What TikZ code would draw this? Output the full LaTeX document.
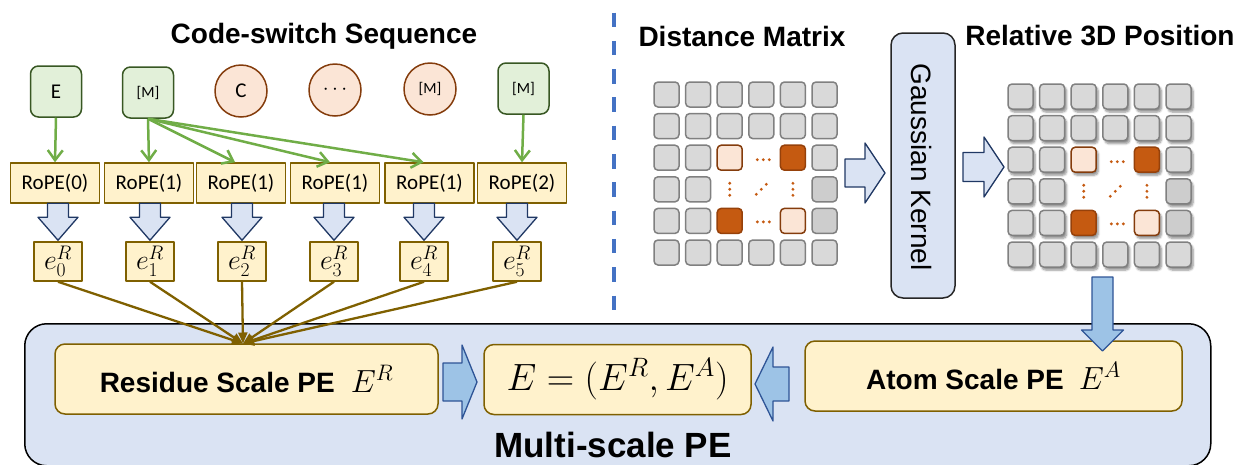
\RequirePackage{fix-cm}
\documentclass[tikz,border=0pt]{standalone}
\usepackage{fontspec}
\setmainfont{Liberation Sans}
\newfontfamily\calib{Carlito}
\usepackage{graphicx}
\usetikzlibrary{arrows.meta,calc,shadows,shadows.blur}

\definecolor{gfill}{RGB}{226,240,217}
\definecolor{gline}{RGB}{56,87,35}
\definecolor{ofill}{RGB}{251,229,214}
\definecolor{oline}{RGB}{132,60,12}
\definecolor{ydark}{RGB}{127,96,0}
\definecolor{yfill}{RGB}{255,242,204}
\definecolor{bfill}{RGB}{218,227,243}
\definecolor{navy}{RGB}{32,56,100}
\definecolor{mblue}{RGB}{157,195,230}
\definecolor{mline}{RGB}{46,84,150}
\definecolor{garrow}{RGB}{112,173,71}
\definecolor{dashblue}{RGB}{68,114,196}
\definecolor{cellfill}{RGB}{217,217,217}
\definecolor{cellline}{RGB}{128,128,128}
\definecolor{cellfilld}{RGB}{205,205,205}
\definecolor{rust}{RGB}{197,90,17}
\definecolor{rustd}{RGB}{150,65,10}

% block arrow: style, origin (tail centre), rotation, length, shaft half width, head half width, head length
\newcommand\blockarrow[7]{%
  \begin{scope}[shift={#2},rotate=#3]
    \draw[#1] (-#5,0) -- (-#5,#4-#7) -- (-#6,#4-#7) -- (0,#4)
      -- (#6,#4-#7) -- (#5,#4-#7) -- (#5,0) -- cycle;
  \end{scope}}

\tikzset{
  tok/.style={draw=gline, fill=gfill, line width=1.5pt, rounded corners=8pt,
    minimum width=51pt, minimum height=51pt, inner sep=0pt,
    font=\calib\fontsize{21}{24}\selectfont},
  tokround/.style={circle, draw=oline, fill=ofill, line width=1.5pt,
    minimum size=52pt, inner sep=0pt, font=\calib\fontsize{21}{24}\selectfont},
  smalltext/.style={font=\calib\fontsize{15.5}{18}\selectfont},
  ropebox/.style={draw=ydark, fill=yfill, line width=1.5pt, minimum width=89pt,
    minimum height=40pt, inner sep=0pt, font=\calib\fontsize{21}{24}\selectfont},
  ebox/.style={draw=ydark, fill=yfill, line width=1.5pt, minimum width=48pt,
    minimum height=39pt, inner sep=0pt, font=\fontsize{28}{30}\selectfont},
  pebox/.style={draw=ydark, fill=yfill, line width=1.5pt, rounded corners=10pt,
    minimum height=70pt, inner sep=0pt, font=\bfseries\fontsize{28}{30}\selectfont},
  heading/.style={font=\bfseries\fontsize{28}{30}\selectfont, anchor=base, inner sep=0pt},
  feed/.style={draw=garrow, line width=2.5pt, -{Straight Barb[length=10pt,width=15pt]}},
  gather/.style={draw=ydark, line width=2.3pt, -{Triangle[length=11pt,width=9pt]}},
  lightarrow/.style={draw=navy, fill=bfill, line width=1.3pt},
  bluearrow/.style={draw=mline, fill=mblue, line width=1.3pt},
  cell/.style={draw=cellline, fill=cellfill, line width=1.5pt, rounded corners=4pt,
    minimum size=25pt, inner sep=0pt},
  hot/.style={cell, draw=rustd, fill=rust},
  warm/.style={cell, draw=oline, fill=ofill},
  cellsh/.style={blur shadow={shadow xshift=2pt, shadow yshift=-3pt,
    shadow blur steps=6, shadow opacity=45}},
}

% 6x6 matrix of rounded cells with a highlighted inner block and ellipsis dots
\newcommand\matrixgrid[4]{%
  \foreach \r in {0,1,5} \foreach \c in {0,...,5}
    \node[cell,#4] (#1-\r-\c) at (#2+31.6*\c,#3+31.6*\r) {};
  \foreach \r in {2,3,4} \foreach \c in {0,1}
    \node[cell,#4] (#1-\r-\c) at (#2+31.6*\c,#3+31.6*\r) {};
  \node[cell,#4] (#1-2-5) at (#2+31.6*5,#3+31.6*2) {};
  \node[cell,#4,fill=cellfilld] (#1-3-5) at (#2+31.6*5,#3+31.6*3) {};
  \node[cell,#4,fill=cellfilld] (#1-4-5) at (#2+31.6*5,#3+31.6*4) {};
  \node[warm,#4] (#1-2-2) at (#2+31.6*2,#3+31.6*2) {};
  \node[hot,#4] (#1-2-4) at (#2+31.6*4,#3+31.6*2) {};
  \node[hot,#4] (#1-4-2) at (#2+31.6*2,#3+31.6*4) {};
  \node[warm,#4] (#1-4-4) at (#2+31.6*4,#3+31.6*4) {};
  \foreach \d in {-6,0,6} {
    \fill[rust] (#2+31.6*3+2+\d,#3+31.6*2+2) circle (1.6);
    \fill[rust] (#2+31.6*3+2+\d,#3+31.6*4+1) circle (1.6);
    \fill[rust] (#2+31.6*2,#3+31.6*3+\d) circle (1.6);
    \fill[rust] (#2+31.6*4,#3+31.6*3+\d) circle (1.6);
  }
  \foreach \d in {-5,0,5}
    \fill[rust] (#2+31.6*3+\d,#3+31.6*3-\d) circle (1.6);
}

\begin{document}
\begin{tikzpicture}[x=1pt,y=-1pt,line join=round]
\useasboundingbox (0,0) rectangle (1238,464);
\clip (0,0) rectangle (1238,464);

% ---------- code-switch sequence ----------
\node[heading] (seqtitle) at (324,43) {Code-switch Sequence};
\node[tok] (tE) at (56,91.5) {E};
\node[tok,smalltext] (tM1) at (148,92.5) {[M]};
\node[tokround] (tC) at (241,91) {C};
\node[tokround] (tDots) at (335,90) {$\cdots$};
\node[tokround,smalltext] (tM2) at (430,89) {[M]};
\node[tok,smalltext] (tM3) at (523.5,88.5) {[M]};

\foreach \i/\x/\t in {0/55/0,1/149/1,2/241/1,3/335/1,4/429.5/1,5/522/2}
  \node[ropebox] (rope\i) at (\x,183) {RoPE(\t)};
\foreach \i/\x in {0/58,1/150,2/242,3/334,4/424,5/517}
  \node[ebox] (e\i) at (\x,261.5) {$e^{R}_{\i}$};

\draw[feed] (tE.south) -- (rope0.north);
\draw[feed] (tM1.south) -- (rope1.north);
\draw[feed] (tM1.south) -- ($(rope2.north)+(-6,0)$);
\draw[feed] (tM1.south) -- ($(rope3.north)+(-5,0)$);
\draw[feed] (tM1.south) -- ($(rope4.north)+(-6,0)$);
\draw[feed] (tM3.south) -- (rope5.north);

\foreach \i in {0,...,5}
  \blockarrow{lightarrow}{($(e\i.north)+(0,-38)$)}{0}{37}{10.5}{20}{23};

% separator
\coordinate (dtop) at (614,12.5);
\coordinate (dbot) at (614,312);
\draw[dashblue, line width=3.5pt, dash pattern=on 14.5pt off 13.8pt] (dtop) -- (dbot);

% ---------- distance matrix and relative 3D position ----------
\node[heading] (dmtitle) at (742,46.5) {Distance Matrix};
\node[heading] (rptitle) at (1100,45.7) {Relative 3D Position};
\matrixgrid{dm}{666.5}{94.5}{}
\matrixgrid{rp}{1020.5}{96.5}{cellsh}

\node[draw=black!85, fill=bfill, line width=1.5pt, rounded corners=12pt,
  minimum width=64pt, minimum height=265pt, inner sep=0pt] (gauss) at (923,165.5) {};
\node[rotate=-90, font=\fontsize{28}{30}\selectfont, inner sep=0pt] (gtext) at (921,167) {Gaussian Kernel};
\blockarrow{lightarrow}{(845,173)}{90}{40}{14}{30}{20};
\blockarrow{lightarrow}{(963,167)}{90}{41}{14.5}{30}{20};

% ---------- multi-scale PE ----------
\node[draw=black, fill=bfill, line width=1.5pt, rounded corners=22pt,
  minimum width=1186pt, minimum height=142pt, inner sep=0pt, anchor=north west] (mspe) at (24,323) {};
\node[font=\bfseries\fontsize{35}{38}\selectfont, anchor=base, inner sep=0pt] (mslabel) at (613,457) {Multi-scale PE};

\node[pebox, minimum width=383pt] (res) at (246.5,379)
  {Residue Scale PE\hspace{16pt}{\fontsize{32}{34}\selectfont$E^{R}$}};
\node[pebox, minimum width=267pt, font=\fontsize{38}{40}\selectfont] (mid) at (617.5,379.5)
  {$E=(E^{R},E^{A})$};
\node[pebox, minimum width=377pt] (atom) at (993.5,376)
  {Atom Scale PE\hspace{15pt}{\fontsize{32}{34}\selectfont$E^{A}$}};

\coordinate (conv) at (243,343.5);
\foreach \i in {0,...,5}
  \draw[gather] (e\i.south) -- (conv);

\blockarrow{bluearrow}{(443,382)}{90}{34}{19}{37}{15};
\blockarrow{bluearrow}{(789,384)}{-90}{34}{17}{37}{18};
\blockarrow{bluearrow}{(1102.5,277)}{0}{74}{10.5}{21}{21};
\end{tikzpicture}
\end{document}
